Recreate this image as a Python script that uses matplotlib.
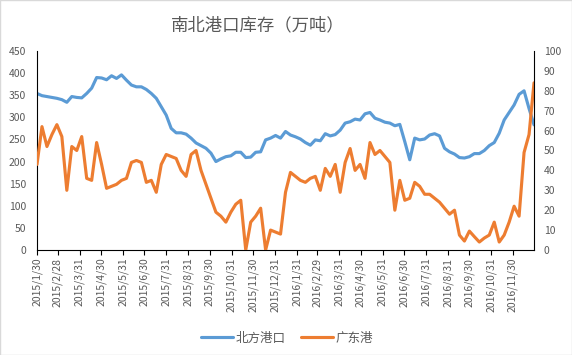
import numpy as np
import pandas as pd
import matplotlib
matplotlib.use("Agg")
import matplotlib.pyplot as plt
import matplotlib.dates as mdates
from matplotlib.patches import Rectangle

plt.rcParams['font.family'] = ['Noto Sans CJK SC', 'DejaVu Sans']

#%% data (weekly, 2015/1/30 - 2016/12/30)
dates = pd.date_range('2015-01-30', periods=101, freq='7D')

north = [354, 349, 347, 345, 343, 340, 334, 347, 345, 344,
         354, 366, 390, 389, 385, 394, 388, 396, 384, 373,
         369, 369, 363, 354, 343, 324, 305, 275, 265, 265,
         262, 253, 242, 236, 230, 219, 200, 206, 211, 213,
         221, 221, 209, 210, 221, 222, 249, 253, 259, 253,
         268, 260, 256, 251, 243, 237, 249, 247, 263, 258,
         261, 271, 287, 290, 296, 294, 308, 311, 298, 294,
         289, 287, 281, 284, 245, 204, 253, 249, 251, 260,
         263, 258, 230, 222, 217, 209, 208, 211, 218, 218,
         225, 236, 243, 264, 294, 311, 328, 352, 360, 320,
         283]

guangdong = [43, 62, 52, 58, 63, 57, 30, 52, 50, 57,
             36, 35, 54, 43, 31, 32, 33, 35, 36, 44,
             45, 44, 34, 35, 29, 43, 48, 47, 46, 40,
             37, 48, 50, 40, 33, 26, 19, 17, 14, 19,
             23, 25, 0, 14, 17, 21, 0, 10, 9, 8,
             29, 39, 37, 35, 34, 36, 37, 30, 41, 37,
             43, 29, 44, 51, 40, 43, 36, 54, 48, 50,
             47, 44, 20, 35, 25, 26, 34, 32, 28, 28,
             26, 24, 21, 18, 20, 7.5, 4.5, 9.5, 6.7, 4,
             6, 7.5, 14, 4, 7.5, 14, 22, 17, 49, 58,
             84]

tick_labels = ['2015/1/30', '2015/2/28', '2015/3/31', '2015/4/30', '2015/5/31',
               '2015/6/30', '2015/7/31', '2015/8/31', '2015/9/30', '2015/10/31',
               '2015/11/30', '2015/12/31', '2016/1/31', '2016/2/29', '2016/3/31',
               '2016/4/30', '2016/5/31', '2016/6/30', '2016/7/31', '2016/8/31',
               '2016/9/30', '2016/10/31', '2016/11/30']

#%%
grey = '#595959'
fig = plt.figure(figsize=(5.72, 3.55), dpi=100)
ax = fig.add_axes([37/572, 1-250/355, (534-37)/572, 199/355])
ax2 = ax.twinx()

l1, = ax.plot(dates, north, color='#5B9BD5', lw=2.25, solid_capstyle='round')
l2, = ax2.plot(dates, guangdong, color='#ED7D31', lw=2.25, solid_capstyle='round')

ax.set_xlim(dates[0], dates[-1])
ax.set_ylim(0, 450)
ax.set_yticks(np.arange(0, 451, 50))
ax2.set_ylim(0, 100)
ax2.set_yticks(np.arange(0, 101, 10))

ticks = pd.to_datetime(tick_labels, format='%Y/%m/%d')
ax.set_xticks(ticks)
ax.set_xticklabels(tick_labels, rotation=90, fontsize=7.5, color=grey)
ax.tick_params(axis='x', direction='out', length=3.5, width=0.8, pad=2)
ax.tick_params(axis='y', length=0, pad=8, labelsize=7.5, labelcolor=grey)
ax2.tick_params(axis='y', length=0, pad=7, labelsize=7.5, labelcolor=grey)

for a in (ax, ax2):
    a.spines['top'].set_visible(False)
    for s in a.spines.values():
        s.set_color('black')
        s.set_linewidth(0.8)
ax.spines['right'].set_visible(False)
ax2.spines['left'].set_visible(False)
ax2.spines['bottom'].set_visible(False)

fig.text(258/572, 1-25/355, '南北港口库存（万吨）', ha='center', va='center',
         fontsize=12.5, color=grey)

fig.legend([l1, l2], ['北方港口', '广东港'], loc='center',
           bbox_to_anchor=(287/572, 1-338/355), ncol=2, frameon=False,
           fontsize=9, handlelength=2.6, handletextpad=0.2, columnspacing=1.2,
           labelcolor=grey)

fig.patches.append(Rectangle((0, 0), 1, 1, transform=fig.transFigure, fill=False,
                             edgecolor='#D9D9D9', lw=1))

fig.savefig('out.png', dpi=100)
